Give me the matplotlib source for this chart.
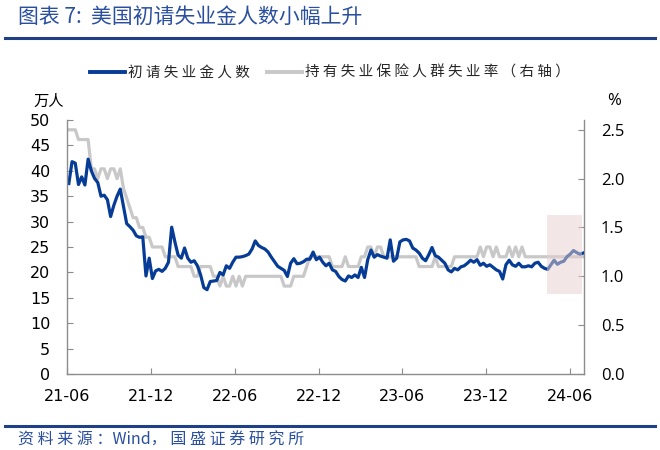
import numpy as np
import pandas as pd
import matplotlib
matplotlib.use('Agg')
from matplotlib import pyplot as plt
import matplotlib.dates as mdates
from matplotlib.patches import Rectangle
from matplotlib.lines import Line2D
from matplotlib.ticker import FormatStrFormatter

plt.rcParams['font.family'] = ['DejaVu Sans']
CJK = ['Noto Sans CJK SC', 'DejaVu Sans']

# weekly data, first week ending 2021-06-05
start_week = '2021-06-05'

# 初请失业金人数, 万人
claims = [
    37.5, 41.8, 41.5, 37.3, 38.8, 37.2, 42.3, 40.0, 38.5, 37.7, 35.0, 35.2, 34.3, 31.0, 33.2, 35.0,
    36.4, 33.0, 29.6, 29.0, 28.3, 27.2, 26.9, 27.0, 19.3, 22.8, 18.8, 20.3, 20.6, 20.2, 20.8, 22.0,
    28.9, 26.0, 23.4, 22.8, 24.8, 22.8, 22.0, 22.3, 21.3, 19.5, 17.0, 16.6, 18.2, 18.3, 18.4, 20.0,
    19.5, 21.3, 20.8, 22.0, 23.0, 23.0, 23.1, 23.3, 23.6, 24.6, 26.2, 25.3, 24.9, 24.6, 24.0, 23.0,
    22.1, 21.2, 20.8, 20.4, 19.2, 21.8, 22.7, 21.7, 21.8, 22.1, 22.6, 22.6, 24.0, 22.5, 23.0, 22.0,
    21.3, 21.8, 20.5, 20.2, 19.2, 18.6, 18.3, 19.3, 19.0, 19.5, 19.0, 21.0, 19.0, 22.5, 24.4, 23.0,
    23.5, 23.2, 23.0, 22.8, 26.4, 22.2, 22.8, 26.0, 26.4, 26.5, 26.2, 24.8, 24.4, 23.8, 22.8, 22.3,
    23.5, 24.9, 23.3, 23.0, 22.4, 21.8, 20.5, 20.1, 20.8, 20.5, 21.1, 21.3, 21.8, 22.4, 22.0, 22.5,
    21.4, 21.8, 21.2, 21.5, 21.0, 20.5, 20.2, 18.7, 21.5, 22.4, 21.5, 21.2, 21.8, 21.1, 21.1, 21.3,
    21.1, 21.8, 22.0, 21.2, 20.8, 20.6, 21.5, 22.4, 21.6, 22.0, 22.2, 23.1, 23.6, 24.3, 23.9, 23.6,
    23.8,
]

# 持有失业保险人群失业率, %
insured_rate = (
    [2.5] * 3 + [2.4] * 4
    + [2.1, 2.1, 2.0, 2.1, 2.1, 2.0, 2.1, 2.1, 2.0, 2.1]
    + [1.9, 1.8, 1.7, 1.6, 1.6, 1.5, 1.5, 1.4, 1.4, 1.3, 1.3, 1.3, 1.3]
    + [1.2] * 4 + [1.1] * 5 + [1.0] * 2 + [1.1] * 4
    + [1.0, 1.0, 0.9, 1.0, 0.9, 0.9, 1.0, 0.9, 1.0, 0.9, 1.0, 1.0]
    + [1.0] * 10 + [0.9] * 3 + [1.0] * 4 + [1.1]
    + [1.2] * 7 + [1.1] * 4 + [1.2] + [1.1] * 4 + [1.2, 1.2]
    + [1.3, 1.3, 1.2, 1.3, 1.3]
    + [1.2] * 11 + [1.1] * 5 + [1.2] + [1.1] * 5
    + [1.2] * 8 + [1.3, 1.2, 1.3, 1.3, 1.2, 1.3]
    + [1.2] * 3 + [1.3, 1.2, 1.3, 1.2, 1.3]
    + [1.2] * 19
)

label_claims = '初请失业金人数'
label_rate = '持有失业保险人群失业率（右轴）'
title = '图表 7:  美国初请失业金人数小幅上升'
source = '资 料 来 源 ：Wind， 国 盛 证 券 研 究 所'

blue = '#063c96'
grey = '#c8c8c8'
rule = '#1f3f86'
title_c = '#2a4f9e'
spine_c = '#8c8c8c'

weeks = pd.date_range(start_week, periods=len(claims), freq='7D')

fig = plt.figure(figsize=(6.6, 4.5), dpi=100)
ax = fig.add_axes([67 / 660, 1 - 374 / 450, (584 - 67) / 660, (374 - 120) / 450])
ax2 = ax.twinx()

ax2.plot(weeks, insured_rate, color=grey, lw=2.3, solid_joinstyle='round')
ax.plot(weeks, claims, color=blue, lw=2.3, solid_joinstyle='round')
ax.set_zorder(ax2.get_zorder() + 1)
ax.patch.set_visible(False)

ax.set_xlim(pd.Timestamp('2021-06-01'), pd.Timestamp('2024-07-01'))
ax.set_ylim(0, 50)
ax.set_yticks(range(0, 51, 5))
ax2.set_ylim(0, 2.6)
ax2.set_yticks(np.arange(0, 2.51, 0.5))
ax2.yaxis.set_major_formatter(FormatStrFormatter('%.1f'))

ax.xaxis.set_major_locator(mdates.MonthLocator(bymonth=[6, 12]))
ax.xaxis.set_major_formatter(mdates.DateFormatter('%y-%m'))

for a in (ax, ax2):
    for s in a.spines.values():
        s.set_color(spine_c)
        s.set_linewidth(1.0)
    a.spines['top'].set_visible(False)
ax.spines['right'].set_visible(False)
ax2.spines['left'].set_visible(False)
ax2.spines['bottom'].set_visible(False)

ax.tick_params(axis='y', direction='in', length=4, pad=12, labelsize=11.5, color=spine_c)
ax.tick_params(axis='x', direction='in', length=4, pad=11, labelsize=11.5, color=spine_c)
ax2.tick_params(axis='y', direction='in', length=4, pad=12, labelsize=12, color=spine_c)
for t in ax2.get_yticklabels():
    t.set_fontfamily('Open Sans')

# highlight box for the latest weeks
x0 = mdates.date2num(pd.Timestamp('2024-04-12'))
x1 = mdates.date2num(pd.Timestamp('2024-06-27'))
ax.add_patch(Rectangle((x0, 15.7), x1 - x0, 15.6, facecolor='#e8cfcf', alpha=0.5,
                       edgecolor='none', zorder=5))

handles = [Line2D([], [], color=blue, lw=2.8), Line2D([], [], color=grey, lw=2.8)]
labels = [' '.join(label_claims), ' '.join(label_rate)]
fig.legend(handles, labels, loc='center', bbox_to_anchor=(0.5, 1 - 73 / 450), ncol=2,
           frameon=False, prop={'family': CJK, 'size': 10.5}, handlelength=2.4,
           handletextpad=0.2, columnspacing=1.2, labelcolor='#262626')

fig.text(33 / 660, 1 - 101 / 450, '万人', family=CJK, size=11, va='center', ha='left')
fig.text(614 / 660, 1 - 101 / 450, '%', family='Open Sans', size=12, va='center', ha='center')

fig.text(18 / 660, 1 - 17 / 450, title, family=CJK, size=15, color=title_c,
         weight='light', va='center', ha='left')
fig.add_artist(Line2D([5 / 660, 655 / 660], [1 - 38 / 450] * 2, color=rule, lw=2.2,
                      transform=fig.transFigure))
fig.add_artist(Line2D([5 / 660, 655 / 660], [1 - 426 / 450] * 2, color=rule, lw=2.2,
                      transform=fig.transFigure))
fig.text(18 / 660, 1 - 440 / 450, source, family=CJK, size=11.5, color=title_c,
         weight='light', va='center', ha='left')

fig.savefig('out.png', dpi=100)
